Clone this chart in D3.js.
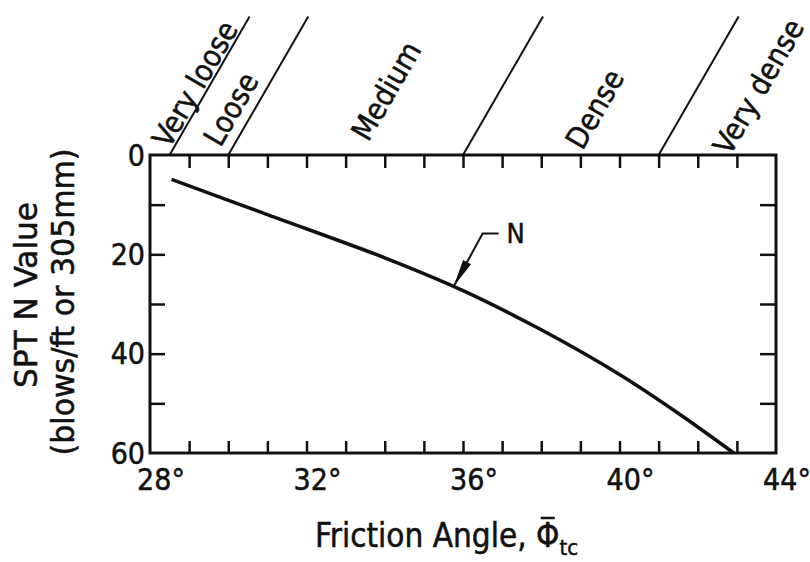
<!DOCTYPE html>
<html>
<head>
<meta charset="utf-8">
<script src="https://cdn.jsdelivr.net/npm/d3@7"></script>
<style>
body { margin: 0; background: #fff; }
text { font-family: "DejaVu Sans Condensed", "DejaVu Sans", sans-serif; fill: #111; stroke: #111; stroke-width: 0.5; }
</style>
</head>
<body>
<div id="chart"></div>
<script>
// SPT N value vs friction angle
var phiValues = [28.55, 31, 34, 36, 38, 40, 41.5, 42.92];
var nValues   = [4.9, 12.0, 20.7, 27.3, 35.2, 44.2, 52.0, 60];

// density class boundaries (deg) and class names
var densityBounds = [28.5, 30, 36, 41];
var densityNames = ["Very loose", "Loose", "Medium", "Dense", "Very dense"];

var xTicks = [29, 30, 31, 32, 33, 34, 35, 36, 37, 38, 39, 40, 41, 42, 43];
var xTickLabels = [28, 32, 36, 40, 44];
var yTicks = [10, 20, 30, 40, 50];
var yTickLabels = [0, 20, 40, 60];
var curveName = "N";

var width = 810, height = 562;
var margin = {top: 155, right: 34, bottom: 109, left: 150};

var x = d3.scaleLinear().domain([28, 44]).range([margin.left, width - margin.right]);
var y = d3.scaleLinear().domain([0, 60]).range([margin.top, height - margin.bottom]);

var svg = d3.select("#chart").append("svg")
	.attr("width", width)
	.attr("height", height);

// ticks, all pointing into the frame
function tickAxis(axis, transform) {
	var g = svg.append("g")
		.attr("transform", transform)
		.call(axis.tickFormat(""));
	g.select(".domain").remove();
	g.selectAll("line").attr("stroke", "#111").attr("stroke-width", 2.5);
}
tickAxis(d3.axisBottom(x).tickValues(xTicks).tickSize(-12), "translate(0," + y(60) + ")");
tickAxis(d3.axisTop(x).tickValues(xTicks).tickSize(-13), "translate(0," + y(0) + ")");
tickAxis(d3.axisLeft(y).tickValues(yTicks).tickSize(-15), "translate(" + x(28) + ",0)");
tickAxis(d3.axisRight(y).tickValues(yTicks).tickSize(-16), "translate(" + x(44) + ",0)");

// frame
svg.append("rect")
	.attr("x", x(28))
	.attr("y", y(0))
	.attr("width", x(44) - x(28))
	.attr("height", y(60) - y(0))
	.attr("fill", "none")
	.attr("stroke", "#111")
	.attr("stroke-width", 3);

// tick labels
svg.selectAll(".xlab")
	.data(xTickLabels)
	.enter().append("text")
	.attr("class", "xlab")
	.attr("x", function (d) { return x(d) + 11; })
	.attr("y", y(60) + 37)
	.attr("text-anchor", "middle")
	.attr("font-size", 30)
	.text(function (d) { return d + "°"; });

svg.selectAll(".ylab")
	.data(yTickLabels)
	.enter().append("text")
	.attr("class", "ylab")
	.attr("x", x(28) - 5)
	.attr("y", function (d) { return y(d); })
	.attr("dy", "0.36em")
	.attr("text-anchor", "end")
	.attr("font-size", 30)
	.text(function (d) { return d; });

// density boundaries above the frame, slanting at 60 degrees
var lineLen = 160,
	cosA = Math.cos(Math.PI / 3),
	sinA = Math.sin(Math.PI / 3);
svg.selectAll(".bound")
	.data(densityBounds)
	.enter().append("line")
	.attr("class", "bound")
	.attr("x1", function (d) { return x(d); })
	.attr("y1", y(0))
	.attr("x2", function (d) { return x(d) + lineLen * cosA; })
	.attr("y2", y(0) - lineLen * sinA)
	.attr("stroke", "#111")
	.attr("stroke-width", 2);

// where each class name sits: axis intercept of its baseline and distance up along it
var nameSpots = [[28.41, 76], [29.7, 47], [33.4, 68], [39.0, 47], [42.85, 73]];
svg.selectAll(".dname")
	.data(densityNames)
	.enter().append("text")
	.attr("class", "dname")
	.attr("text-anchor", "middle")
	.attr("font-size", 30)
	.attr("transform", function (d, i) {
		var s = nameSpots[i];
		var px = x(s[0]) + s[1] * cosA,
			py = y(0) - s[1] * sinA;
		return "translate(" + px + "," + py + ") rotate(-60)";
	})
	.text(function (d) { return d; });

// the curve
var pts = phiValues.map(function (p, i) { return [p, nValues[i]]; });
svg.append("path")
	.datum(pts)
	.attr("fill", "none")
	.attr("stroke", "#111")
	.attr("stroke-width", 3.5)
	.attr("d", d3.line()
		.x(function (d) { return x(d[0]); })
		.y(function (d) { return y(d[1]); })
		.curve(d3.curveCatmullRom.alpha(0.5)));

// leader arrow with the curve name
var tip = [x(35.76), y(26.5)],
	bend = [tip[0] + 29, tip[1] - 53],
	end = [bend[0] + 16, bend[1]];
svg.append("path")
	.attr("d", "M" + tip + "L" + bend + "L" + end)
	.attr("fill", "none")
	.attr("stroke", "#111")
	.attr("stroke-width", 2);
var len = Math.hypot(bend[0] - tip[0], bend[1] - tip[1]),
	ux = (bend[0] - tip[0]) / len,
	uy = (bend[1] - tip[1]) / len,
	hl = 28, hw = 4.5;
svg.append("path")
	.attr("d", "M" + tip +
		"L" + [tip[0] + ux * hl - uy * hw, tip[1] + uy * hl + ux * hw] +
		"L" + [tip[0] + ux * hl + uy * hw, tip[1] + uy * hl - ux * hw] + "Z")
	.attr("fill", "#111");
svg.append("text")
	.attr("x", end[0] + 8)
	.attr("y", end[1])
	.attr("dy", "0.36em")
	.attr("font-size", 27)
	.text(curveName);

// axis titles
var xTitle = "Friction Angle, ";
var xt = svg.append("text")
	.attr("x", 315)
	.attr("y", 547)
	.attr("font-size", 33);
xt.append("tspan").text(xTitle);
xt.append("tspan").text("\u03A6");
xt.append("tspan").attr("font-size", 22).attr("dy", 8).text("tc");
// bar over the phi
var phiBox = xt.node().getExtentOfChar(xTitle.length);
svg.append("line")
	.attr("x1", phiBox.x + phiBox.width / 2 - 7)
	.attr("x2", phiBox.x + phiBox.width / 2 + 7)
	.attr("y1", phiBox.y + 2)
	.attr("y2", phiBox.y + 2)
	.attr("stroke", "#111")
	.attr("stroke-width", 2.5);

svg.append("text")
	.attr("transform", "translate(37,295) rotate(-90)")
	.attr("text-anchor", "middle")
	.attr("font-size", 32)
	.attr("textLength", 186)
	.attr("lengthAdjust", "spacingAndGlyphs")
	.text("SPT N Value");
svg.append("text")
	.attr("transform", "translate(74,302) rotate(-90)")
	.attr("text-anchor", "middle")
	.attr("font-size", 32)
	.attr("textLength", 307)
	.attr("lengthAdjust", "spacingAndGlyphs")
	.text("(blows/ft or 305mm)");
</script>
</body>
</html>
